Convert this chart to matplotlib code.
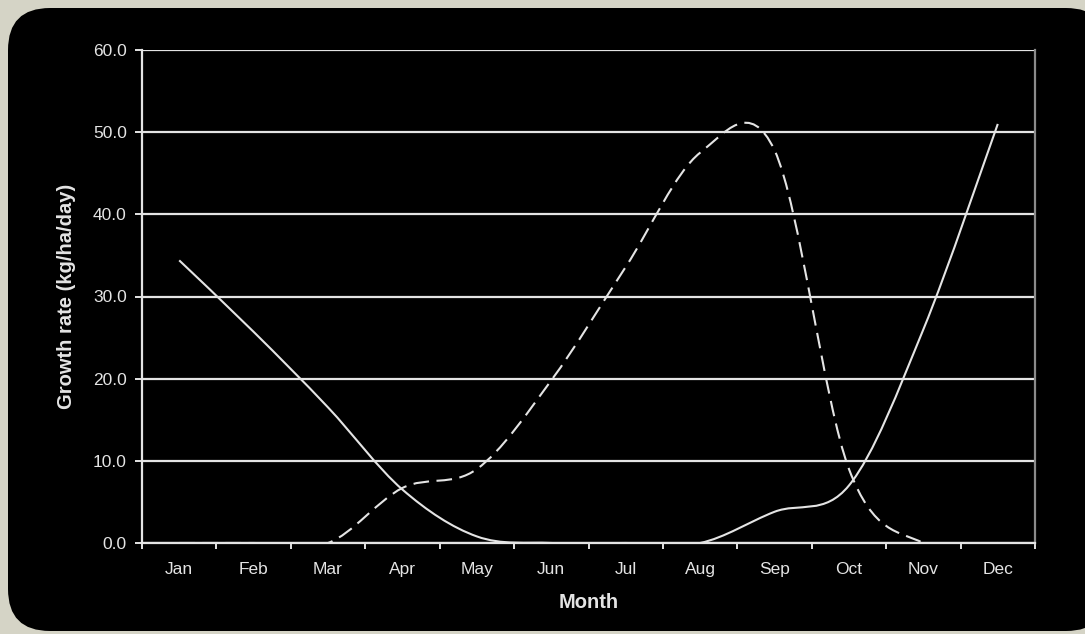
import numpy as np
import matplotlib
matplotlib.use('Agg')
import matplotlib.pyplot as plt
from matplotlib.path import Path
from matplotlib.patches import PathPatch, FancyBboxPatch
from matplotlib.transforms import IdentityTransform
from matplotlib.ticker import FormatStrFormatter

# monthly growth rates (kg/ha/day)
months = ['Jan', 'Feb', 'Mar', 'Apr', 'May', 'Jun', 'Jul', 'Aug', 'Sep', 'Oct', 'Nov', 'Dec']
solid_rate = [34.4, 25.7, 16.5, 6.5, 0.8, 0.0, 0.0, 0.0, 3.8, 7.0, 26.0, 51.0]
dashed_rate = [0.0, 0.0, 0.0, 6.7, 9.0, 19.8, 33.6, 47.5, 47.8, 9.0, 0.0, 0.0]
y_ticks = [0, 10, 20, 30, 40, 50, 60]

fg = '#e4e4e4'
plt.rcParams['font.family'] = ['Liberation Sans', 'DejaVu Sans']


def smooth_path(xs, ys):
    # excel-like smoothed line: cubic bezier segments through each point
    pts = np.column_stack([xs, ys]).astype(float)
    ext = np.vstack([pts[0], pts, pts[-1]])
    verts = [tuple(pts[0])]
    codes = [Path.MOVETO]
    for i in range(len(pts) - 1):
        p_prev, p0, p1, p_next = ext[i], ext[i + 1], ext[i + 2], ext[i + 3]
        c1 = p0 + (p1 - p_prev) / 6.0
        c2 = p1 - (p_next - p0) / 6.0
        verts += [tuple(c1), tuple(c2), tuple(p1)]
        codes += [Path.CURVE4] * 3
    return Path(verts, codes)


fig = plt.figure(figsize=(10.85, 6.34), dpi=100)
fig.patch.set_facecolor('#d5d4c6')

# black rounded panel behind the chart
panel = FancyBboxPatch((8, 3), 1100, 623, boxstyle='round,pad=0,rounding_size=42',
                       facecolor='black', edgecolor='none', transform=IdentityTransform(),
                       zorder=-10)
fig.add_artist(panel)

ax = fig.add_axes([142 / 1085, 91 / 634, 893 / 1085, 493 / 634])
ax.set_facecolor('black')

x = np.arange(len(months))
ax.add_patch(PathPatch(smooth_path(x, solid_rate), fill=False, edgecolor=fg, lw=1.5,
                       transform=ax.transData, zorder=3))
ax.add_patch(PathPatch(smooth_path(x, dashed_rate), fill=False, edgecolor=fg, lw=1.5,
                       linestyle=(0, (7.5, 3.6)), transform=ax.transData, zorder=3))

ax.set_xlim(-0.5, len(months) - 0.5)
ax.set_ylim(0, 60)
ax.set_yticks(y_ticks)
ax.yaxis.set_major_formatter(FormatStrFormatter('%.1f'))
ax.set_xticks(x)
ax.set_xticklabels(months)
ax.set_xticks(np.arange(len(months) + 1) - 0.5, minor=True)

ax.yaxis.grid(True, color=fg, lw=1.6)
ax.set_axisbelow(True)

for side in ['left', 'bottom', 'top']:
    ax.spines[side].set_color(fg)
    ax.spines[side].set_linewidth(1.6)
ax.spines['top'].set_visible(False)
ax.spines['right'].set_color('#8a8a8a')
ax.spines['right'].set_linewidth(1.6)

ax.tick_params(axis='y', colors=fg, length=5, width=1.4, pad=6, labelsize=12.5)
ax.tick_params(axis='x', which='major', length=0, pad=14, colors=fg, labelsize=12.5)
ax.tick_params(axis='x', which='minor', length=4, width=1.4, color=fg)

ax.set_xlabel('Month', color=fg, fontsize=14.5, fontweight='bold', labelpad=11)
ax.set_ylabel('Growth rate (kg/ha/day)', color=fg, fontsize=14.5, fontweight='bold', labelpad=12)

fig.savefig('out.png', dpi=100, facecolor=fig.get_facecolor())
